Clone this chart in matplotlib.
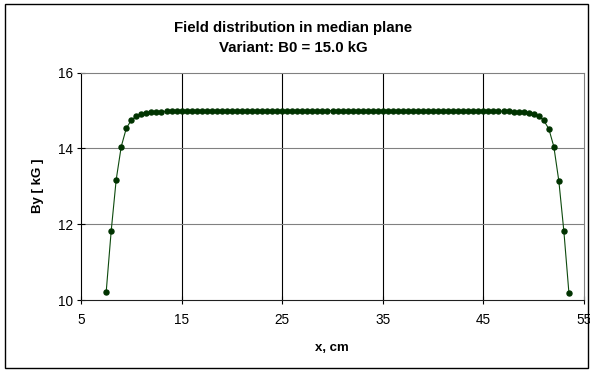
import matplotlib
matplotlib.use("Agg")
import matplotlib.pyplot as plt
from matplotlib.patches import Rectangle

# Field profile in the median plane, sampled every 0.5 cm from 7.5 to 53.5 cm
x_cm = [7.5 + 0.5 * i for i in range(93)]
rise = [10.20, 11.82, 13.18, 14.05, 14.53, 14.75, 14.85, 14.90,
        14.93, 14.95, 14.96, 14.97, 14.98, 14.98, 14.99, 14.99]
plateau = [15.00] * 61
fall = [14.99, 14.99, 14.98, 14.98, 14.97, 14.96, 14.95, 14.93,
        14.90, 14.85, 14.74, 14.52, 14.05, 13.14, 11.81, 10.19]
by_kg = rise + plateau + fall

x_ticks = [5, 15, 25, 35, 45, 55]
y_ticks = [10, 12, 14, 16]
title_lines = ["Field distribution in median plane", "Variant: B0 = 15.0 kG"]
x_label = "x, cm"
y_label = "By [ kG ]"

plt.rcParams["font.family"] = ["Liberation Sans", "DejaVu Sans"]

W, H = 590, 370
fig = plt.figure(figsize=(W / 100, H / 100), dpi=100)

# outer chart frame
fig.patches.append(Rectangle((5 / W, 1 - 368 / H), 583 / W, 364 / H,
                             transform=fig.transFigure, fill=False,
                             edgecolor="black", linewidth=1.0))

left, right, top, bottom = 81, 584, 72.7, 300
ax = fig.add_axes([left / W, 1 - bottom / H, (right - left) / W, (bottom - top) / H])

ax.plot(x_cm, by_kg, color="#0d4a0d", linewidth=0.8, marker="o",
        markersize=3.6, markerfacecolor="#003300", markeredgecolor="#003300",
        zorder=3, clip_on=False)

ax.set_xlim(5, 55)
ax.set_ylim(10, 16)
ax.set_xticks(x_ticks)
ax.set_yticks(y_ticks)
ax.set_xticklabels([str(v) for v in x_ticks])
ax.set_yticklabels([str(v) for v in y_ticks])

for v in x_ticks[1:-1]:
    ax.axvline(v, color="black", linewidth=0.8, zorder=1)
for v in y_ticks[1:-1]:
    ax.axhline(v, color="#808080", linewidth=0.8, zorder=1)

ax.spines["left"].set_color("black")
ax.spines["bottom"].set_color("#202020")
ax.spines["top"].set_color("#808080")
ax.spines["right"].set_color("#808080")
for s in ax.spines.values():
    s.set_linewidth(0.8)

ax.tick_params(axis="both", direction="inout", length=6, width=0.8,
               labelsize=9.8, colors="black")
ax.tick_params(axis="x", pad=6)
ax.tick_params(axis="y", pad=3)

fig.text(293 / W, 1 - 28 / H, title_lines[0], ha="center", va="center",
         fontsize=10.8, fontweight="bold")
fig.text(293 / W, 1 - 48 / H, title_lines[1], ha="center", va="center",
         fontsize=10.8, fontweight="bold")
fig.text(332 / W, 1 - 348 / H, x_label, ha="center", va="center",
         fontsize=9.5, fontweight="bold")
fig.text(38 / W, 1 - 186 / H, y_label, ha="center", va="center",
         fontsize=9.5, fontweight="bold", rotation=90)

fig.savefig("out.png", dpi=100)
